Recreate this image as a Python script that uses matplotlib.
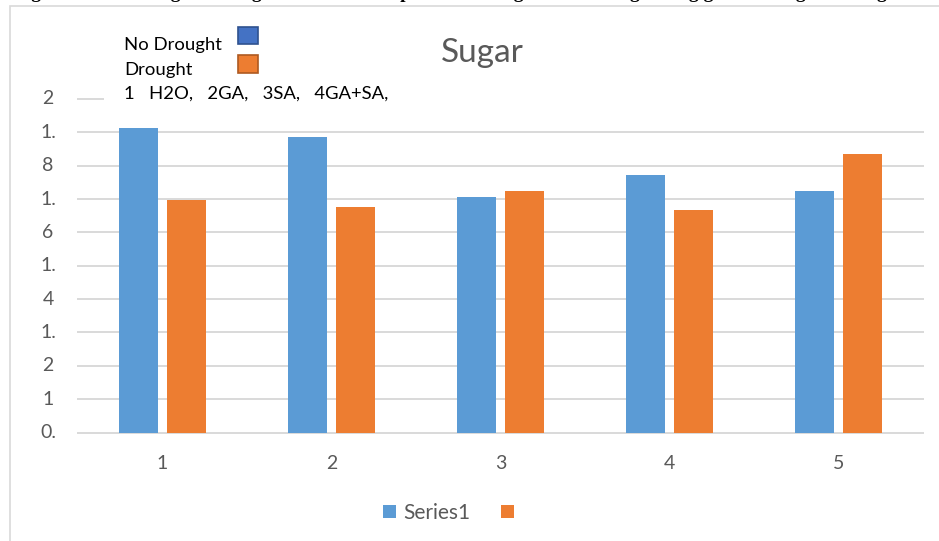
import matplotlib
matplotlib.use("Agg")
import matplotlib.pyplot as plt
from matplotlib.patches import Rectangle
from matplotlib.transforms import blended_transform_factory
import numpy as np

# Treatments 1..5 and sugar values for the two series
categories = ["1", "2", "3", "4", "5"]
no_drought = [1.826, 1.772, 1.412, 1.544, 1.448]
drought = [1.396, 1.352, 1.448, 1.334, 1.670]

# Y axis gridline values and their (wrapped) labels
y_ticks = [2.0, 1.8, 1.6, 1.4, 1.2, 1.0, 0.8, 0.6, 0.4, 0.2, 0.0]
y_labels = ["2", "1.", "8", "1.", "6", "1.", "4", "1.", "2", "1", "0."]

title = "Sugar"
legend_names = ["No Drought", "Drought"]
treatment_note = "1   H2O,   2GA,   3SA,   4GA+SA,"
caption = "Figure 3: Effect of growth regulators on the expression of sugar content regulating genes with growth regulators under drought"

BLUE = "#5B9BD5"
ORANGE = "#ED7D31"
GRID = "#D9D9D9"
TXT = "#595959"
FONT = ["Lato", "DejaVu Sans"]

W, H = 939, 541
fig = plt.figure(figsize=(W / 100, H / 100), dpi=100)
fig.patch.set_facecolor("white")

def fx(px):
    return px / W

def fy(py):
    return 1 - py / H

# chart frame
fig.patches.append(Rectangle((fx(10), -0.2), 2, fy(6) + 0.2, transform=fig.transFigure,
                             facecolor="none", edgecolor=GRID, lw=1.2, zorder=0))

ax = fig.add_axes([fx(78), fy(432.5), fx(923) - fx(78), (432.5 - 99) / H])
ax.set_facecolor("none")
x = np.arange(1, len(categories) + 1)
bw = 0.225
off = 0.142
ax.bar(x - off, no_drought, width=bw, color=BLUE, zorder=3)
ax.bar(x + off, drought, width=bw, color=ORANGE, zorder=3)

ax.set_xlim(0.5, 5.5)
ax.set_ylim(0, 2.0)
for v in y_ticks:
    ax.axhline(v, color=GRID, lw=1.4, zorder=1, clip_on=False)

for s in ax.spines.values():
    s.set_visible(False)
ax.set_yticks([])
ax.set_xticks(x)
ax.set_xticklabels(categories, fontsize=14, color=TXT, family=FONT)
ax.tick_params(axis="x", length=0, pad=16)

# wrapped y labels, each centred on its gridline
tr = blended_transform_factory(fig.transFigure, ax.transData)
for v, lab in zip(y_ticks, y_labels):
    ax.text(fx(48), v, lab, transform=tr, ha="center", va="center",
            fontsize=14, color=TXT, family=FONT)

# white box behind the treatment note hides the top gridline
fig.patches.append(Rectangle((fx(104), fy(108)), fx(930) - fx(104), (108 - 90) / H,
                             transform=fig.transFigure, facecolor="white",
                             edgecolor="none", zorder=5))

fig.text(fx(482), fy(53), title, ha="center", va="center", fontsize=24,
         color=TXT, family=FONT, zorder=6)

fig.text(fx(124), fy(50), legend_names[0], ha="left", va="baseline", fontsize=13.3,
         color="black", family=FONT, zorder=6)
fig.text(fx(124), fy(75), legend_names[1], ha="left", va="baseline", fontsize=13.3,
         color="black", family=FONT, zorder=6)
fig.text(fx(124), fy(99), treatment_note, ha="left", va="baseline", fontsize=13.3,
         color="black", family=FONT, zorder=6)
fig.patches.append(Rectangle((fx(238), fy(44)), fx(20), 17 / H, transform=fig.transFigure,
                             facecolor="#4472C4", edgecolor="#2F528F", lw=1.2, zorder=6))
fig.patches.append(Rectangle((fx(238), fy(73)), fx(20), 18 / H, transform=fig.transFigure,
                             facecolor=ORANGE, edgecolor="#AE5A21", lw=1.2, zorder=6))

# bottom legend
h1 = Rectangle((0, 0), 1, 1, facecolor=BLUE)
h2 = Rectangle((0, 0), 1, 1, facecolor=ORANGE)
leg = fig.legend([h1, h2], ["Series1", ""], loc="center", ncol=2,
                 bbox_to_anchor=(fx(452), fy(513)), frameon=False,
                 handlelength=0.6, handleheight=0.6, handletextpad=0.35,
                 columnspacing=1.5, prop={"family": FONT, "size": 15})
for t in leg.get_texts():
    t.set_color(TXT)

# caption line, cut off at the top edge
fig.text(fx(14), fy(-1.5), caption, ha="left", va="baseline", fontsize=14,
         fontweight="bold", family=["Liberation Serif", "DejaVu Serif"], color="black")

fig.savefig("out.png", dpi=100, facecolor="white")
